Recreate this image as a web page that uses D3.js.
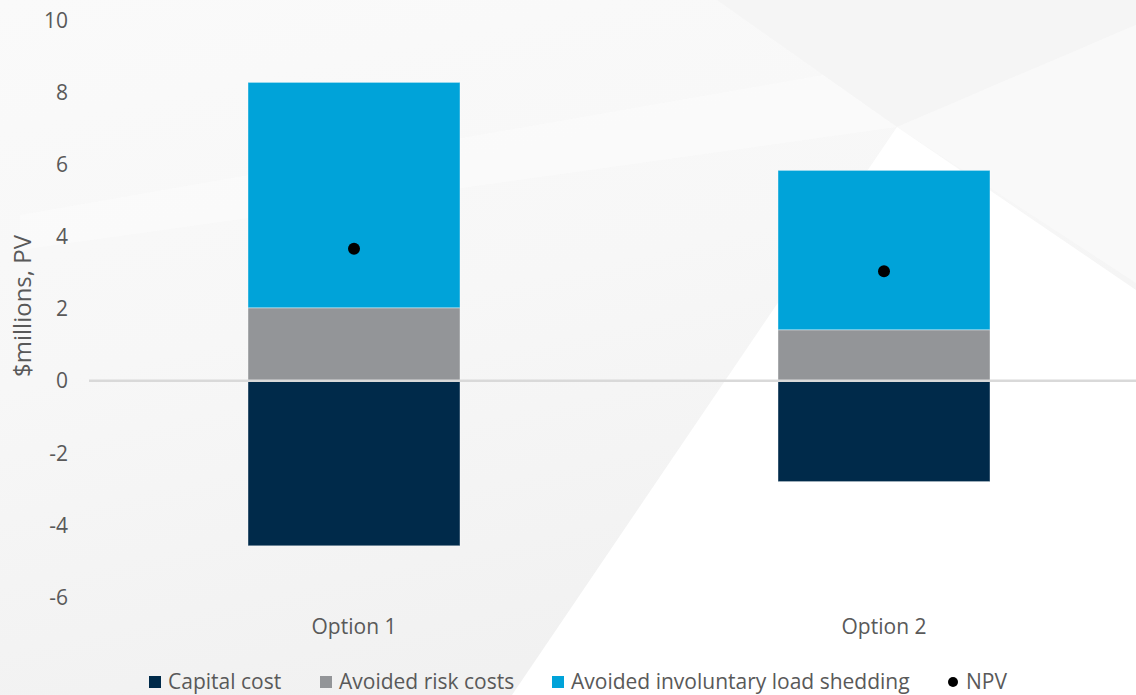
<!DOCTYPE html>
<html>
<head>
<meta charset="utf-8">
<script src="https://cdn.jsdelivr.net/npm/d3@7"></script>
<style>
  html, body { margin: 0; padding: 0; background: #f7f7f7; }
  svg { display: block; }
  text { font-family: "Open Sans", "Noto Sans", sans-serif; fill: #595959; }
</style>
</head>
<body>
<svg id="chart" width="1136" height="695"></svg>
<script>
// Cost-benefit components per option ($ millions, present value)
const categories = ["Option 1", "Option 2"];
const capitalCost = [-4.58, -2.80];
const avoidedRiskCosts = [2.02, 1.41];
const avoidedLoadShedding = [6.25, 4.42];
const npv = [3.66, 3.03];
const yTicks = [-6, -4, -2, 0, 2, 4, 6, 8, 10];

const seriesNames = ["Capital cost", "Avoided risk costs", "Avoided involuntary load shedding"];
const seriesColors = ["#002a4a", "#939598", "#00a3d9"];

const W = 1136, H = 695;
const svg = d3.select("#chart");

// Soft faceted backdrop
const defs = svg.append("defs");
const grad = defs.append("linearGradient").attr("id", "bgGrad")
  .attr("x1", "0").attr("y1", "0").attr("x2", "0.35").attr("y2", "1");
grad.append("stop").attr("offset", "0").attr("stop-color", "#fafafa");
grad.append("stop").attr("offset", "0.5").attr("stop-color", "#f7f7f7");
grad.append("stop").attr("offset", "1").attr("stop-color", "#f1f1f1");

const bg = svg.append("g");
bg.append("rect").attr("width", W).attr("height", H).attr("fill", "url(#bgGrad)");
bg.append("polygon").attr("points", "717,0 1136,0 1136,25 897,127").attr("fill", "#f5f5f5");
bg.append("polygon").attr("points", "20,215 823,75 897,127 20,250").attr("fill", "#fbfbfb").attr("opacity", 0.6);
bg.append("polygon").attr("points", "897,127 1136,25 1136,283").attr("fill", "#f9f9f9");
bg.append("polygon").attr("points", "897,127 1136,290 1136,695 512,695").attr("fill", "#ffffff");

const y = d3.scaleLinear().domain([-6, 10]).range([597, 20]);
const x = d3.scaleBand().domain(categories).range([89, 1149]).paddingInner(0.6).paddingOuter(0.3);

// Y axis tick labels
const yAxis = d3.axisLeft(y).tickValues(yTicks).tickSize(0).tickPadding(0).tickFormat(d => String(d));
const gy = svg.append("g").attr("transform", "translate(68,0)").call(yAxis);
gy.select(".domain").remove();
gy.selectAll("text").style("font-size", "21px").attr("fill", "#595959").attr("dy", "0.35em");

// Y axis title
svg.append("text")
  .attr("transform", "translate(31,306) rotate(-90)")
  .attr("text-anchor", "middle")
  .style("font-size", "24px")
  .text("$millions, PV");

// Stacked bars: positives stack upward from zero, negatives downward
const rows = categories.map((c, i) => ({ cat: c, vals: [capitalCost[i], avoidedRiskCosts[i], avoidedLoadShedding[i]] }));
const segs = [];
rows.forEach(r => {
  let pos = 0, neg = 0;
  r.vals.forEach((v, k) => {
    let y0, y1;
    if (v >= 0) { y0 = pos; y1 = pos + v; pos = y1; }
    else { y0 = neg + v; y1 = neg; neg = y0; }
    segs.push({ cat: r.cat, k, y0, y1 });
  });
});

svg.append("g").selectAll("rect").data(segs).join("rect")
  .attr("x", d => x(d.cat))
  .attr("width", x.bandwidth())
  .attr("y", d => y(d.y1))
  .attr("height", d => y(d.y0) - y(d.y1))
  .attr("fill", d => seriesColors[d.k])
  .attr("stroke", "#ffffff")
  .attr("stroke-opacity", 0.4)
  .attr("stroke-width", 1);

// Zero line
svg.append("line")
  .attr("x1", 89).attr("x2", W)
  .attr("y1", y(0)).attr("y2", y(0))
  .attr("stroke", "#d9d9d9").attr("stroke-width", 2.5);

// NPV markers
svg.append("g").selectAll("circle").data(categories).join("circle")
  .attr("cx", d => x(d) + x.bandwidth() / 2)
  .attr("cy", (d, i) => y(npv[i]))
  .attr("r", 6)
  .attr("fill", "#000");

// Category labels
const xAxis = d3.axisBottom(x).tickSize(0).tickPadding(0);
const gx = svg.append("g").attr("transform", "translate(0,634)").call(xAxis);
gx.select(".domain").remove();
gx.selectAll("text").style("font-size", "21px").attr("fill", "#595959").attr("y", 0).attr("dy", "0");

// Legend
const legendItems = [
  { name: seriesNames[0], color: seriesColors[0], type: "rect", x: 149 },
  { name: seriesNames[1], color: seriesColors[1], type: "rect", x: 320 },
  { name: seriesNames[2], color: seriesColors[2], type: "rect", x: 552 },
  { name: "NPV", color: "#000", type: "circle", x: 948 }
];
const lg = svg.append("g").attr("transform", "translate(0,682)");
const li = lg.selectAll("g").data(legendItems).join("g").attr("transform", d => `translate(${d.x},0)`);
li.filter(d => d.type === "rect").append("rect")
  .attr("x", 0).attr("y", -6).attr("width", 12).attr("height", 12).attr("fill", d => d.color);
li.filter(d => d.type === "circle").append("circle")
  .attr("cx", 5).attr("cy", 0).attr("r", 5).attr("fill", d => d.color);
li.append("text").attr("x", d => d.type === "rect" ? 19 : 18).attr("y", 0).attr("dy", "0.35em")
  .style("font-size", "21px").text(d => d.name);
</script>
</body>
</html>
